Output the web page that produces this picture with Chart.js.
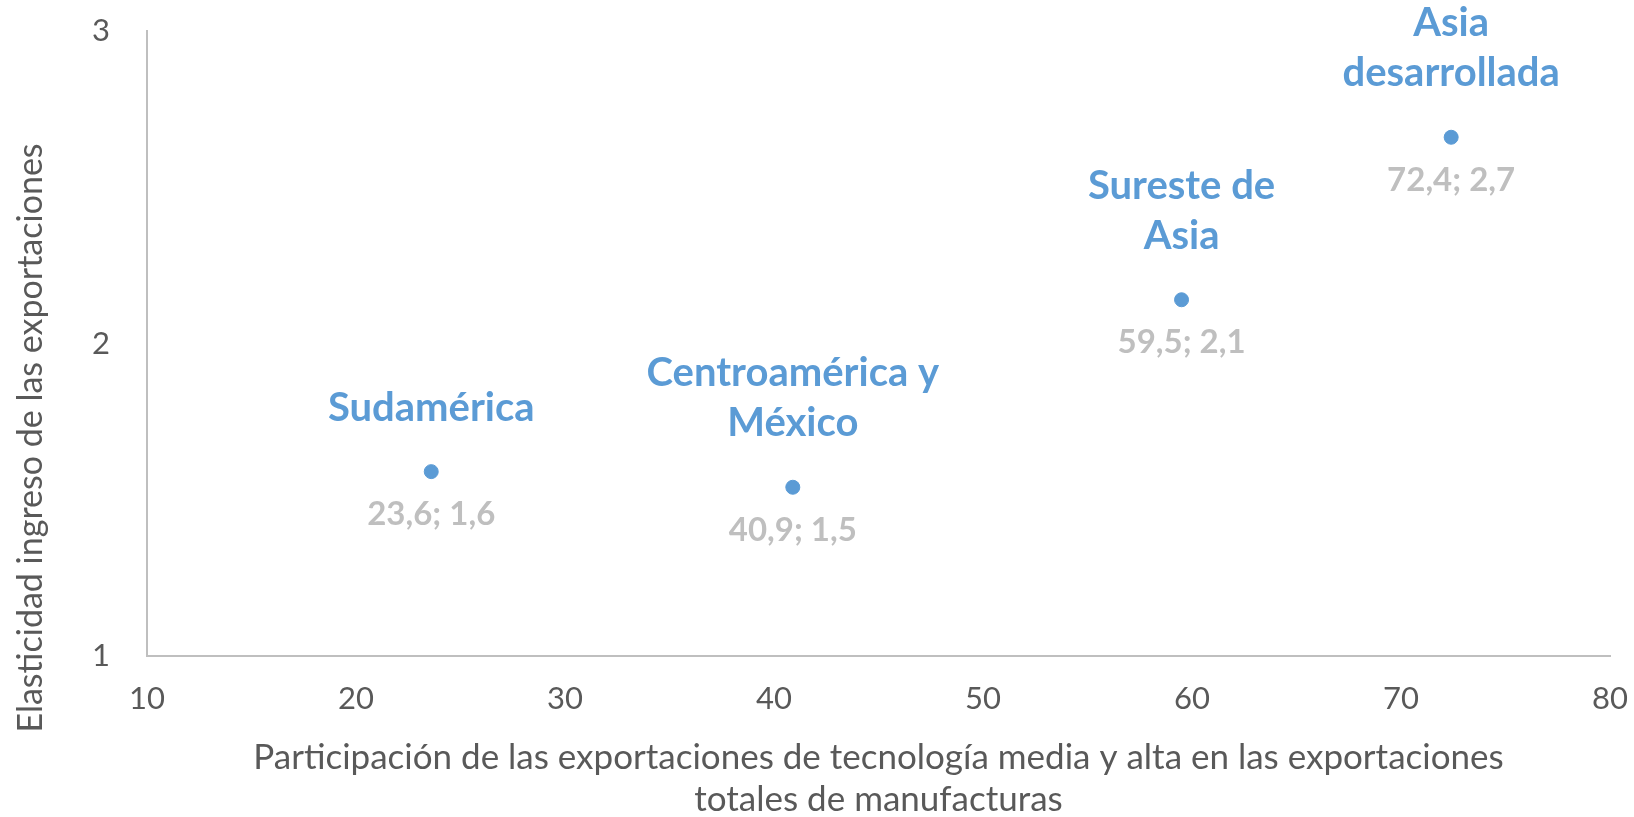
<!DOCTYPE html>
<html>
<head>
<meta charset="utf-8">
<script src="https://cdn.jsdelivr.net/npm/chart.js@4"></script>
<style>
  html, body { margin: 0; padding: 0; background: #fff; }
  #wrap { width: 1634px; height: 817px; position: relative; }
</style>
</head>
<body>
<div id="wrap"><canvas id="scatterChart"></canvas></div>
<script>
// Data
const regionNames = [
  ["Sudamérica"],
  ["Centroamérica y", "México"],
  ["Sureste de", "Asia"],
  ["Asia", "desarrollada"],
];
const techShare = [23.6, 40.9, 59.5, 72.4];
const incomeElasticity = [1.59, 1.54, 2.14, 2.66];
const xTicks = [10, 20, 30, 40, 50, 60, 70, 80];
const yTicks = [1, 2, 3];
const xTitle = [
  "Participación de las exportaciones de tecnología media y alta en las exportaciones",
  "totales de manufacturas",
];
const yTitle = "Elasticidad ingreso de las exportaciones";

// Style
const BLUE = "#5b9bd5";
const LABEL_GRAY = "#bfbfbf";
const AXIS_TEXT = "#595959";
const FONT = "Lato, 'Open Sans', sans-serif";

const fmt = (n) => n.toFixed(1).replace(".", ",");

// Point labels: region name above, "x; y" below
const pointLabels = {
  id: "pointLabels",
  afterDatasetsDraw(chart) {
    const { ctx } = chart;
    const meta = chart.getDatasetMeta(0);
    ctx.save();
    ctx.textAlign = "center";
    ctx.textBaseline = "middle";
    meta.data.forEach((pt, i) => {
      const lines = regionNames[i];
      ctx.font = `bold 40px ${FONT}`;
      ctx.fillStyle = BLUE;
      lines.forEach((line, j) => {
        const up = 64 + (lines.length - 1 - j) * 50;
        ctx.fillText(line, pt.x, pt.y - up);
      });
      ctx.font = `bold 33px ${FONT}`;
      ctx.fillStyle = LABEL_GRAY;
      ctx.fillText(`${fmt(techShare[i])}; ${fmt(incomeElasticity[i])}`, pt.x, pt.y + 43);
    });
    ctx.restore();
  },
};

// Y axis title, drawn rotated at the left edge
const yAxisTitle = {
  id: "yAxisTitle",
  afterDraw(chart) {
    const { ctx } = chart;
    ctx.save();
    ctx.translate(31, 438);
    ctx.rotate(-Math.PI / 2);
    ctx.textAlign = "center";
    ctx.textBaseline = "middle";
    ctx.font = `34px ${FONT}`;
    ctx.fillStyle = AXIS_TEXT;
    ctx.fillText(yTitle, 0, 0);
    ctx.restore();
  },
};

new Chart(document.getElementById("scatterChart"), {
  type: "scatter",
  data: {
    datasets: [
      {
        data: techShare.map((x, i) => ({ x, y: incomeElasticity[i] })),
        backgroundColor: BLUE,
        borderColor: BLUE,
        pointRadius: 7,
        pointHoverRadius: 7,
      },
    ],
  },
  options: {
    responsive: true,
    maintainAspectRatio: false,
    animation: false,
    layout: { padding: { top: 31, right: 24, left: 0, bottom: 0 } },
    plugins: {
      legend: { display: false },
      tooltip: { enabled: false },
    },
    scales: {
      x: {
        type: "linear",
        min: xTicks[0],
        max: xTicks[xTicks.length - 1],
        afterBuildTicks: (axis) => { axis.ticks = xTicks.map((v) => ({ value: v })); },
        afterFit: (axis) => {
          axis.height = 161;
          axis.paddingLeft = 0;
          axis.paddingRight = 0;
        },
        grid: { display: false, drawTicks: false },
        border: { display: true, color: "#bfbfbf", width: 2 },
        ticks: { padding: 24, color: AXIS_TEXT, font: { family: FONT, size: 31 } },
        title: {
          display: true,
          text: xTitle,
          color: AXIS_TEXT,
          font: { family: FONT, size: 35, lineHeight: "42px" },
          padding: { top: 0, bottom: -4 },
        },
      },
      y: {
        type: "linear",
        min: yTicks[0],
        max: yTicks[yTicks.length - 1],
        afterBuildTicks: (axis) => { axis.ticks = yTicks.map((v) => ({ value: v })); },
        afterFit: (axis) => {
          axis.width = 147;
          axis.paddingTop = 0;
          axis.paddingBottom = 0;
        },
        grid: { display: false, drawTicks: false },
        border: { display: true, color: "#bfbfbf", width: 2 },
        ticks: { padding: 37, color: AXIS_TEXT, font: { family: FONT, size: 31 } },
      },
    },
  },
  plugins: [pointLabels, yAxisTitle],
});
</script>
</body>
</html>
